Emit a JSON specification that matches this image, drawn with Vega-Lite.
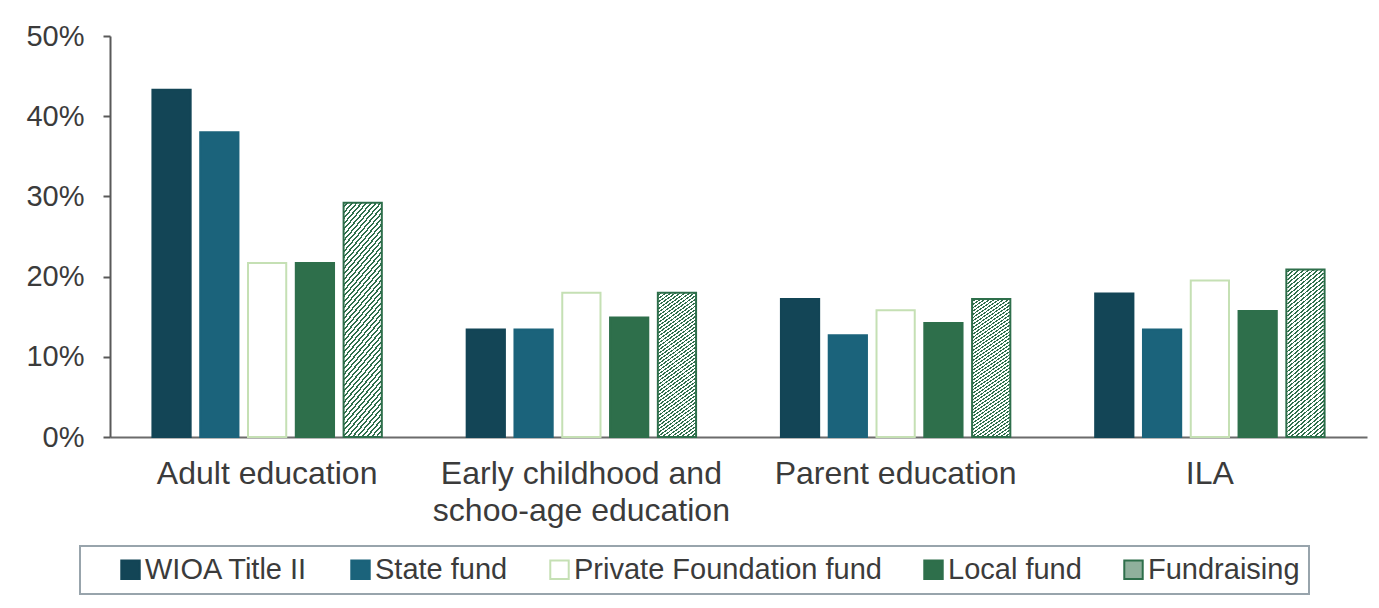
{
  "$schema": "https://vega.github.io/schema/vega-lite/v6.json",
  "width": 1257,
  "height": 401,
  "autosize": {"type": "none"},
  "padding": {"left": 110, "top": 36, "right": 12, "bottom": 171},
  "background": "white",
  "config": {"view": {"stroke": null}, "font": "Liberation Sans"},
  "data": {
    "values": [
      {"category": "Adult education", "series": "WIOA Title II", "value": 0.433},
      {"category": "Adult education", "series": "State fund", "value": 0.380},
      {"category": "Adult education", "series": "Private Foundation fund", "value": 0.217},
      {"category": "Adult education", "series": "Local fund", "value": 0.217},
      {"category": "Adult education", "series": "Fundraising", "value": 0.292},
      {"category": "Early childhood and schoo-age education", "series": "WIOA Title II", "value": 0.134},
      {"category": "Early childhood and schoo-age education", "series": "State fund", "value": 0.134},
      {"category": "Early childhood and schoo-age education", "series": "Private Foundation fund", "value": 0.180},
      {"category": "Early childhood and schoo-age education", "series": "Local fund", "value": 0.149},
      {"category": "Early childhood and schoo-age education", "series": "Fundraising", "value": 0.180},
      {"category": "Parent education", "series": "WIOA Title II", "value": 0.172},
      {"category": "Parent education", "series": "State fund", "value": 0.127},
      {"category": "Parent education", "series": "Private Foundation fund", "value": 0.158},
      {"category": "Parent education", "series": "Local fund", "value": 0.142},
      {"category": "Parent education", "series": "Fundraising", "value": 0.172},
      {"category": "ILA", "series": "WIOA Title II", "value": 0.179},
      {"category": "ILA", "series": "State fund", "value": 0.134},
      {"category": "ILA", "series": "Private Foundation fund", "value": 0.195},
      {"category": "ILA", "series": "Local fund", "value": 0.157},
      {"category": "ILA", "series": "Fundraising", "value": 0.209}
    ]
  },
  "mark": {"type": "bar", "strokeWidth": 2},
  "encoding": {
    "x": {
      "field": "category",
      "type": "nominal",
      "sort": ["Adult education", "Early childhood and schoo-age education", "Parent education", "ILA"],
      "scale": {"paddingInner": 0.27, "paddingOuter": 0.135},
      "axis": {
        "title": null,
        "labelAngle": 0,
        "domainColor": "#6b6b6b",
        "domainWidth": 2,
        "ticks": false,
        "tickSize": 0,
        "labelFontSize": 32,
        "labelColor": "#3b3b3b",
        "labelPadding": 21,
        "labelLineHeight": 37,
        "labelLimit": 0,
        "labelExpr": "datum.label == 'Early childhood and schoo-age education' ? ['Early childhood and', 'schoo-age education'] : datum.label"
      }
    },
    "xOffset": {
      "field": "series",
      "type": "nominal",
      "sort": ["WIOA Title II", "State fund", "Private Foundation fund", "Local fund", "Fundraising"],
      "scale": {"paddingInner": 0.2, "paddingOuter": 0}
    },
    "y": {
      "field": "value",
      "type": "quantitative",
      "scale": {"domain": [0, 0.5]},
      "axis": {
        "title": null,
        "values": [0, 0.1, 0.2, 0.3, 0.4, 0.5],
        "format": ".0%",
        "grid": false,
        "domainColor": "#595959",
        "domainWidth": 2,
        "tickColor": "#595959",
        "tickWidth": 2,
        "tickSize": 7,
        "labelFontSize": 29,
        "labelColor": "#3b3b3b",
        "labelPadding": 19
      }
    },
    "fill": {
      "condition": {
        "test": "datum.series === 'Fundraising'",
        "value": {
          "gradient": "linear", "x1": 0, "y1": 0, "x2": 0.22, "y2": 1.15,
          "stops": [
            {"offset":0,"color":"#fff"},{"offset":0.012,"color":"#fff"},{"offset":0.012,"color":"#2e6f4b"},{"offset":0.02,"color":"#2e6f4b"},
            {"offset":0.02,"color":"#fff"},{"offset":0.032,"color":"#fff"},{"offset":0.032,"color":"#2e6f4b"},{"offset":0.04,"color":"#2e6f4b"},
            {"offset":0.04,"color":"#fff"},{"offset":0.052,"color":"#fff"},{"offset":0.052,"color":"#2e6f4b"},{"offset":0.06,"color":"#2e6f4b"},
            {"offset":0.06,"color":"#fff"},{"offset":0.072,"color":"#fff"},{"offset":0.072,"color":"#2e6f4b"},{"offset":0.08,"color":"#2e6f4b"},
            {"offset":0.08,"color":"#fff"},{"offset":0.092,"color":"#fff"},{"offset":0.092,"color":"#2e6f4b"},{"offset":0.1,"color":"#2e6f4b"},
            {"offset":0.1,"color":"#fff"},{"offset":0.112,"color":"#fff"},{"offset":0.112,"color":"#2e6f4b"},{"offset":0.12,"color":"#2e6f4b"},
            {"offset":0.12,"color":"#fff"},{"offset":0.132,"color":"#fff"},{"offset":0.132,"color":"#2e6f4b"},{"offset":0.14,"color":"#2e6f4b"},
            {"offset":0.14,"color":"#fff"},{"offset":0.152,"color":"#fff"},{"offset":0.152,"color":"#2e6f4b"},{"offset":0.16,"color":"#2e6f4b"},
            {"offset":0.16,"color":"#fff"},{"offset":0.172,"color":"#fff"},{"offset":0.172,"color":"#2e6f4b"},{"offset":0.18,"color":"#2e6f4b"},
            {"offset":0.18,"color":"#fff"},{"offset":0.192,"color":"#fff"},{"offset":0.192,"color":"#2e6f4b"},{"offset":0.2,"color":"#2e6f4b"},
            {"offset":0.2,"color":"#fff"},{"offset":0.212,"color":"#fff"},{"offset":0.212,"color":"#2e6f4b"},{"offset":0.22,"color":"#2e6f4b"},
            {"offset":0.22,"color":"#fff"},{"offset":0.232,"color":"#fff"},{"offset":0.232,"color":"#2e6f4b"},{"offset":0.24,"color":"#2e6f4b"},
            {"offset":0.24,"color":"#fff"},{"offset":0.252,"color":"#fff"},{"offset":0.252,"color":"#2e6f4b"},{"offset":0.26,"color":"#2e6f4b"},
            {"offset":0.26,"color":"#fff"},{"offset":0.272,"color":"#fff"},{"offset":0.272,"color":"#2e6f4b"},{"offset":0.28,"color":"#2e6f4b"},
            {"offset":0.28,"color":"#fff"},{"offset":0.292,"color":"#fff"},{"offset":0.292,"color":"#2e6f4b"},{"offset":0.3,"color":"#2e6f4b"},
            {"offset":0.3,"color":"#fff"},{"offset":0.312,"color":"#fff"},{"offset":0.312,"color":"#2e6f4b"},{"offset":0.32,"color":"#2e6f4b"},
            {"offset":0.32,"color":"#fff"},{"offset":0.332,"color":"#fff"},{"offset":0.332,"color":"#2e6f4b"},{"offset":0.34,"color":"#2e6f4b"},
            {"offset":0.34,"color":"#fff"},{"offset":0.352,"color":"#fff"},{"offset":0.352,"color":"#2e6f4b"},{"offset":0.36,"color":"#2e6f4b"},
            {"offset":0.36,"color":"#fff"},{"offset":0.372,"color":"#fff"},{"offset":0.372,"color":"#2e6f4b"},{"offset":0.38,"color":"#2e6f4b"},
            {"offset":0.38,"color":"#fff"},{"offset":0.392,"color":"#fff"},{"offset":0.392,"color":"#2e6f4b"},{"offset":0.4,"color":"#2e6f4b"},
            {"offset":0.4,"color":"#fff"},{"offset":0.412,"color":"#fff"},{"offset":0.412,"color":"#2e6f4b"},{"offset":0.42,"color":"#2e6f4b"},
            {"offset":0.42,"color":"#fff"},{"offset":0.432,"color":"#fff"},{"offset":0.432,"color":"#2e6f4b"},{"offset":0.44,"color":"#2e6f4b"},
            {"offset":0.44,"color":"#fff"},{"offset":0.452,"color":"#fff"},{"offset":0.452,"color":"#2e6f4b"},{"offset":0.46,"color":"#2e6f4b"},
            {"offset":0.46,"color":"#fff"},{"offset":0.472,"color":"#fff"},{"offset":0.472,"color":"#2e6f4b"},{"offset":0.48,"color":"#2e6f4b"},
            {"offset":0.48,"color":"#fff"},{"offset":0.492,"color":"#fff"},{"offset":0.492,"color":"#2e6f4b"},{"offset":0.5,"color":"#2e6f4b"},
            {"offset":0.5,"color":"#fff"},{"offset":0.512,"color":"#fff"},{"offset":0.512,"color":"#2e6f4b"},{"offset":0.52,"color":"#2e6f4b"},
            {"offset":0.52,"color":"#fff"},{"offset":0.532,"color":"#fff"},{"offset":0.532,"color":"#2e6f4b"},{"offset":0.54,"color":"#2e6f4b"},
            {"offset":0.54,"color":"#fff"},{"offset":0.552,"color":"#fff"},{"offset":0.552,"color":"#2e6f4b"},{"offset":0.56,"color":"#2e6f4b"},
            {"offset":0.56,"color":"#fff"},{"offset":0.572,"color":"#fff"},{"offset":0.572,"color":"#2e6f4b"},{"offset":0.58,"color":"#2e6f4b"},
            {"offset":0.58,"color":"#fff"},{"offset":0.592,"color":"#fff"},{"offset":0.592,"color":"#2e6f4b"},{"offset":0.6,"color":"#2e6f4b"},
            {"offset":0.6,"color":"#fff"},{"offset":0.612,"color":"#fff"},{"offset":0.612,"color":"#2e6f4b"},{"offset":0.62,"color":"#2e6f4b"},
            {"offset":0.62,"color":"#fff"},{"offset":0.632,"color":"#fff"},{"offset":0.632,"color":"#2e6f4b"},{"offset":0.64,"color":"#2e6f4b"},
            {"offset":0.64,"color":"#fff"},{"offset":0.652,"color":"#fff"},{"offset":0.652,"color":"#2e6f4b"},{"offset":0.66,"color":"#2e6f4b"},
            {"offset":0.66,"color":"#fff"},{"offset":0.672,"color":"#fff"},{"offset":0.672,"color":"#2e6f4b"},{"offset":0.68,"color":"#2e6f4b"},
            {"offset":0.68,"color":"#fff"},{"offset":0.692,"color":"#fff"},{"offset":0.692,"color":"#2e6f4b"},{"offset":0.7,"color":"#2e6f4b"},
            {"offset":0.7,"color":"#fff"},{"offset":0.712,"color":"#fff"},{"offset":0.712,"color":"#2e6f4b"},{"offset":0.72,"color":"#2e6f4b"},
            {"offset":0.72,"color":"#fff"},{"offset":0.732,"color":"#fff"},{"offset":0.732,"color":"#2e6f4b"},{"offset":0.74,"color":"#2e6f4b"},
            {"offset":0.74,"color":"#fff"},{"offset":0.752,"color":"#fff"},{"offset":0.752,"color":"#2e6f4b"},{"offset":0.76,"color":"#2e6f4b"},
            {"offset":0.76,"color":"#fff"},{"offset":0.772,"color":"#fff"},{"offset":0.772,"color":"#2e6f4b"},{"offset":0.78,"color":"#2e6f4b"},
            {"offset":0.78,"color":"#fff"},{"offset":0.792,"color":"#fff"},{"offset":0.792,"color":"#2e6f4b"},{"offset":0.8,"color":"#2e6f4b"},
            {"offset":0.8,"color":"#fff"},{"offset":0.812,"color":"#fff"},{"offset":0.812,"color":"#2e6f4b"},{"offset":0.82,"color":"#2e6f4b"},
            {"offset":0.82,"color":"#fff"},{"offset":0.832,"color":"#fff"},{"offset":0.832,"color":"#2e6f4b"},{"offset":0.84,"color":"#2e6f4b"},
            {"offset":0.84,"color":"#fff"},{"offset":0.852,"color":"#fff"},{"offset":0.852,"color":"#2e6f4b"},{"offset":0.86,"color":"#2e6f4b"},
            {"offset":0.86,"color":"#fff"},{"offset":0.872,"color":"#fff"},{"offset":0.872,"color":"#2e6f4b"},{"offset":0.88,"color":"#2e6f4b"},
            {"offset":0.88,"color":"#fff"},{"offset":0.892,"color":"#fff"},{"offset":0.892,"color":"#2e6f4b"},{"offset":0.9,"color":"#2e6f4b"},
            {"offset":0.9,"color":"#fff"},{"offset":0.912,"color":"#fff"},{"offset":0.912,"color":"#2e6f4b"},{"offset":0.92,"color":"#2e6f4b"},
            {"offset":0.92,"color":"#fff"},{"offset":0.932,"color":"#fff"},{"offset":0.932,"color":"#2e6f4b"},{"offset":0.94,"color":"#2e6f4b"},
            {"offset":0.94,"color":"#fff"},{"offset":0.952,"color":"#fff"},{"offset":0.952,"color":"#2e6f4b"},{"offset":0.96,"color":"#2e6f4b"},
            {"offset":0.96,"color":"#fff"},{"offset":0.972,"color":"#fff"},{"offset":0.972,"color":"#2e6f4b"},{"offset":0.98,"color":"#2e6f4b"},
            {"offset":0.98,"color":"#fff"},{"offset":0.992,"color":"#fff"},{"offset":0.992,"color":"#2e6f4b"},{"offset":1,"color":"#2e6f4b"}
          ]
        }
      },
      "field": "series",
      "type": "nominal",
      "scale": {
        "domain": ["WIOA Title II", "State fund", "Private Foundation fund", "Local fund", "Fundraising"],
        "range": ["#134556", "#1b637b", "#ffffff", "#2e6f4b", "#8fb09c"]
      },
      "legend": {
        "orient": "none",
        "legendX": -30,
        "legendY": 510,
        "direction": "horizontal",
        "columns": 5,
        "title": "\u00a0",
        "titleOrient": "left",
        "titleFontSize": 29,
        "titlePadding": 27,
        "symbolType": "square",
        "symbolSize": 340,
        "symbolStrokeWidth": 2,
        "labelFontSize": 29,
        "labelColor": "#3b3b3b",
        "labelOffset": 0,
        "labelLimit": 0,
        "columnPadding": 37,
        "padding": 9,
        "strokeColor": "#98a4ac",
        "fillColor": "white",
        "encode": {
          "legend": {"update": {"strokeWidth": {"value": 2}}}
        }
      }
    },
    "stroke": {
      "field": "series",
      "type": "nominal",
      "scale": {
        "domain": ["WIOA Title II", "State fund", "Private Foundation fund", "Local fund", "Fundraising"],
        "range": ["#134556", "#1b637b", "#c5e0b4", "#2e6f4b", "#2e6f4b"]
      }
    }
  }
}
